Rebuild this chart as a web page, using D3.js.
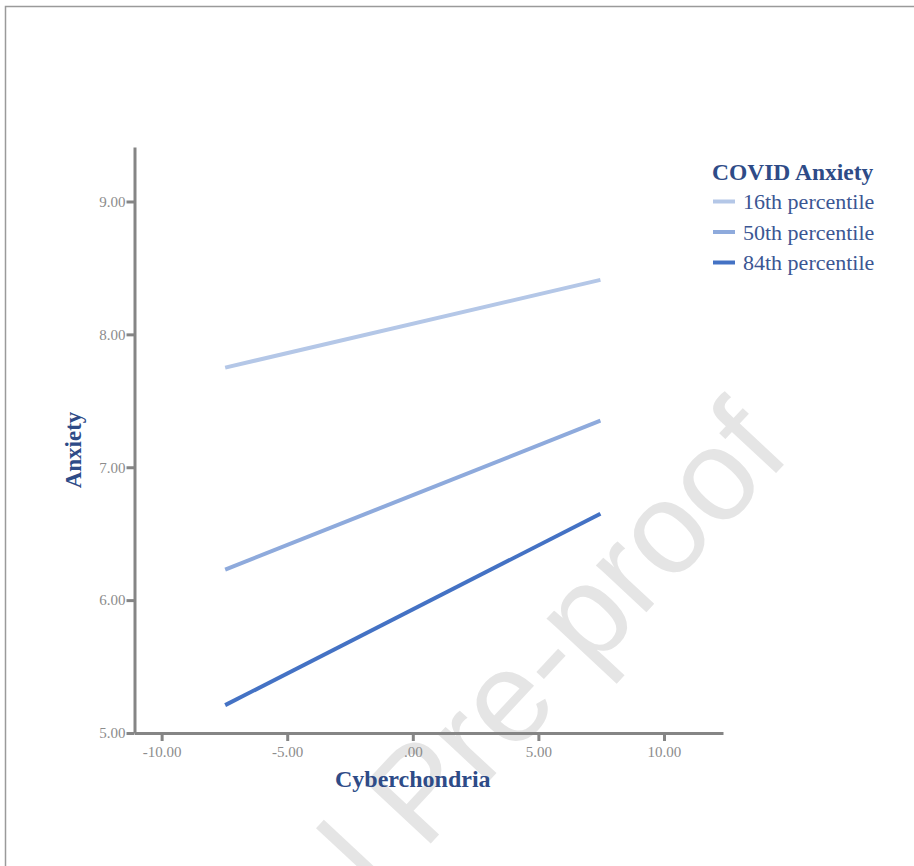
<!DOCTYPE html>
<html>
<head>
<meta charset="utf-8">
<script src="https://cdn.jsdelivr.net/npm/d3@7"></script>
<style>
    body { margin: 0; background: #ffffff; }
    text { font-family: "Liberation Serif", "Times New Roman", serif; }
</style>
</head>
<body>
<div id="chart"></div>
<script>

// simple slopes: Anxiety by Cyberchondria at levels of COVID Anxiety
const groups = ['16th percentile', '50th percentile', '84th percentile']
const colors = ['#b4c7e7', '#8eaadc', '#4472c4']
const xPoints = [-7.47, 7.47]
const low16 = [7.75, 8.41]
const mid50 = [6.23, 7.35]
const high84 = [5.21, 6.65]
const xTicks = [-10, -5, 0, 5, 10]
const yTicks = [5, 6, 7, 8, 9]

let width = 914, height = 866

let svg = d3.select('#chart').append('svg')
    .attr('width', width)
    .attr('height', height)

// page frame (pdf crop)
svg.append('path')
    .attr('d', `M5.5,${height} L5.5,6.5 L${width},6.5`)
    .attr('fill', 'none')
    .attr('stroke', '#9a9a9a')
    .attr('stroke-width', 1.5)

// watermark, drawn first so it stays behind the chart
svg.append('text')
    .attr('transform', 'translate(793,455) rotate(-47)')
    .attr('text-anchor', 'end')
    .style('font-family', '"Liberation Sans", Arial, sans-serif')
    .style('font-size', '130px')
    .attr('fill', '#e5e5e5')
    .text('Journal Pre-proof')

// scales
let x = d3.scaleLinear()
    .domain([-11.08, 12.35])
    .range([134.5, 723])

let y = d3.scaleLinear()
    .domain([5, 9.41])
    .range([733, 147])

// spss style labels: ".00", "-5.00" with a plain hyphen
let fmt = d => d === 0 ? '.00' : (d < 0 ? '-' : '') + Math.abs(d).toFixed(2)

// axes
let xAxisGroup = svg.append('g')
    .attr('class', 'axis x-axis')
    .attr('transform', `translate(0,${y(5)})`)
    .call(d3.axisBottom(x).tickValues(xTicks).tickFormat(fmt).tickSizeInner(8).tickSizeOuter(0).tickPadding(5))

let yAxisGroup = svg.append('g')
    .attr('class', 'axis y-axis')
    .attr('transform', `translate(${x.range()[0]},0)`)
    .call(d3.axisLeft(y).tickValues(yTicks).tickFormat(fmt).tickSizeInner(8).tickSizeOuter(0).tickPadding(1))

svg.selectAll('.axis path.domain, .axis line')
    .attr('stroke', '#858585')
    .attr('stroke-width', 3)

svg.selectAll('.axis text')
    .attr('fill', '#8c8c8c')
    .style('font-size', '15px')

// lines
let series = [low16, mid50, high84]
let data = series.map((vals, i) => ({
    name: groups[i],
    color: colors[i],
    values: vals.map((v, j) => ({x: xPoints[j], y: v}))
}))

let line = d3.line()
    .x(d => x(d.x))
    .y(d => y(d.y))

svg.selectAll('.slope')
    .data(data)
    .enter()
    .append('path')
    .attr('class', 'slope')
    .attr('d', d => line(d.values))
    .attr('fill', 'none')
    .attr('stroke', d => d.color)
    .attr('stroke-width', 4)

// axis titles
svg.append('text')
    .attr('x', x(0))
    .attr('y', 787)
    .attr('text-anchor', 'middle')
    .attr('fill', '#2e4b87')
    .style('font-size', '24px')
    .style('font-weight', 'bold')
    .text('Cyberchondria')

svg.append('text')
    .attr('transform', `translate(81,${y(7.13)}) rotate(-90)`)
    .attr('text-anchor', 'middle')
    .attr('fill', '#2e4b87')
    .style('font-size', '23px')
    .style('font-weight', 'bold')
    .text('Anxiety')

// legend
let legend = svg.append('g')
    .attr('transform', 'translate(712,180)')

legend.append('text')
    .attr('x', 0)
    .attr('y', 0)
    .attr('fill', '#2e4b87')
    .style('font-size', '23.5px')
    .style('font-weight', 'bold')
    .text('COVID Anxiety')

let items = legend.selectAll('.item')
    .data(data)
    .enter()
    .append('g')
    .attr('class', 'item')
    .attr('transform', (d, i) => `translate(0,${21.5 + i * 30.5})`)

items.append('line')
    .attr('x1', 1)
    .attr('x2', 23)
    .attr('y1', 0)
    .attr('y2', 0)
    .attr('stroke', d => d.color)
    .attr('stroke-width', 4)

items.append('text')
    .attr('x', 31)
    .attr('y', 7.5)
    .attr('fill', '#3b5693')
    .style('font-size', '22px')
    .text(d => d.name)

</script>
</body>
</html>
